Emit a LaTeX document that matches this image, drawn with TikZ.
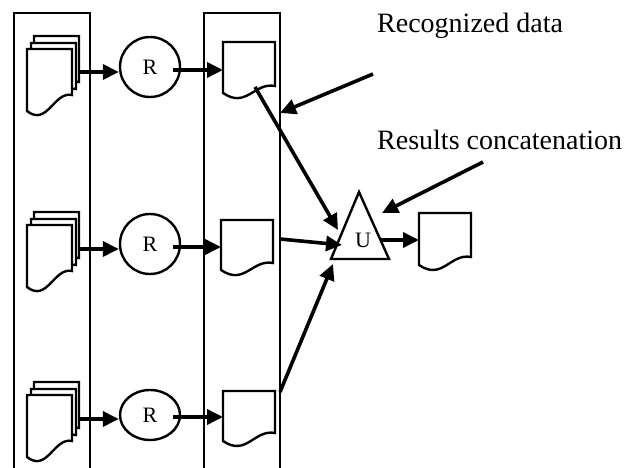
\documentclass[tikz,border=0pt]{standalone}
\usepackage{fontspec}
\setmainfont{Liberation Serif}
\usetikzlibrary{arrows.meta,calc,shapes.geometric}
\tikzset{
 colbox/.style={draw, line width=2.2pt, anchor=north west, inner sep=0pt, outer sep=0pt},
 docbox/.style={draw=none, inner sep=0pt, outer sep=0pt, anchor=north west},
 docline/.style={draw, fill=white, line width=2.4pt, line join=miter},
 arr/.style={line width=3.6pt, -{Triangle[length=16pt,width=15pt]}},
 proc/.style={draw, ellipse, line width=2.4pt, inner sep=0pt, fill=white, font=\fontsize{22}{26}\selectfont},
 lbl/.style={font=\fontsize{28}{32}\selectfont, anchor=base west, inner sep=0pt},
 tri/.style={draw, line width=2.4pt, fill=white, line join=miter},
}
\newcommand{\docnode}[5]{\node[docbox, minimum width=#4pt, minimum height=#5pt] (#1) at (#2,#3) {};}
\newcommand{\mydoc}[4]{%
 \begin{scope}[shift={(#1.north west)}]
 \draw[docline] (0,0) -- (#2,0) -- (#2,#4) .. controls ({0.6*#2},{#4-4}) and ({0.45*#2},{#3+16}) .. (0,#3) -- cycle;
 \end{scope}}
\begin{document}
\begin{tikzpicture}[x=1pt,y=-1pt]
\useasboundingbox (0,0) rectangle (633,468);
\clip (0,0) rectangle (633,468);
% columns
\node[colbox, minimum width=76pt, minimum height=470pt] (col1) at (14,13) {};
\node[colbox, minimum width=76pt, minimum height=470pt] (col2) at (204,13) {};
% stacks
\foreach \r/\T in {1/49,2/225,3/395}{
 \docnode{s\r c}{34}{\T-13}{45}{62}
 \docnode{s\r b}{31}{\T-6}{45}{62}
 \docnode{s\r a}{27}{\T}{45}{62}
 \mydoc{s\r c}{45}{62}{46}
 \mydoc{s\r b}{45}{62}{46}
 \mydoc{s\r a}{45}{62}{46}
}
% recognized docs
\docnode{d1}{223}{42}{52}{51}
\docnode{d2}{221}{220}{52}{50}
\docnode{d3}{223}{391}{52}{50}
\docnode{out}{419}{213}{52}{52}
\mydoc{d1}{52}{51}{44}
\mydoc{d2}{52}{50}{43}
\mydoc{d3}{52}{50}{42}
\mydoc{out}{52}{52}{44}
% recognizers
\node[proc, minimum width=60pt, minimum height=60pt] (c1) at (150,67) {R};
\node[proc, minimum width=60pt, minimum height=60pt] (c2) at (150,244) {R};
\node[proc, minimum width=60pt, minimum height=50pt] (c3) at (150,415) {R};
% arrows stack -> R -> doc
\draw[arr] (s1c.east |- 0,72) -- (c1.west |- 0,72);
\draw[arr] (s2c.east |- 0,249) -- (c2.west |- 0,249);
\draw[arr] (s3c.east |- 0,419) -- (c3.west |- 0,419);
\draw[arr] ([xshift=-8pt]c1.east |- 0,70) -- (d1.west |- 0,70);
\draw[arr] ([xshift=-8pt]c2.east |- 0,247) -- (d2.west |- 0,247);
\draw[arr] ([xshift=-8pt]c3.east |- 0,417) -- (d3.west |- 0,417);
% union
\coordinate (ta) at (359,192);
\coordinate (tb) at (389,259);
\coordinate (tc) at (331,259);
\draw[tri] (ta) -- (tb) -- (tc) -- cycle;
\node[font=\fontsize{22}{26}\selectfont, inner sep=0pt] (un) at (363,240) {U};
\coordinate (u1) at (338,230);
\coordinate (u2) at (342,245);
\coordinate (u3) at (333,264);
\coordinate (u4) at (382,213);
\coordinate (uo) at (380,240);
\draw[arr] ($(d1.north west)+(32,45)$) -- (u1);
\draw[arr] (col2.east |- 0,239) -- (u2);
\draw[arr] (col2.east |- 0,392) -- (u3);
\draw[arr] (uo) -- (out.west |- 0,240);
% labels
\node[lbl] (lrec) at (377,33) {Recognized data};
\node[lbl] (lres) at (377,150) {Results concatenation};
\coordinate (lr1) at (373,74);
\coordinate (lr2) at (483,162);
\draw[arr] (lr1) -- (col2.east |- 0,113);
\draw[arr] (lr2) -- (u4);
\end{tikzpicture}
\end{document}
